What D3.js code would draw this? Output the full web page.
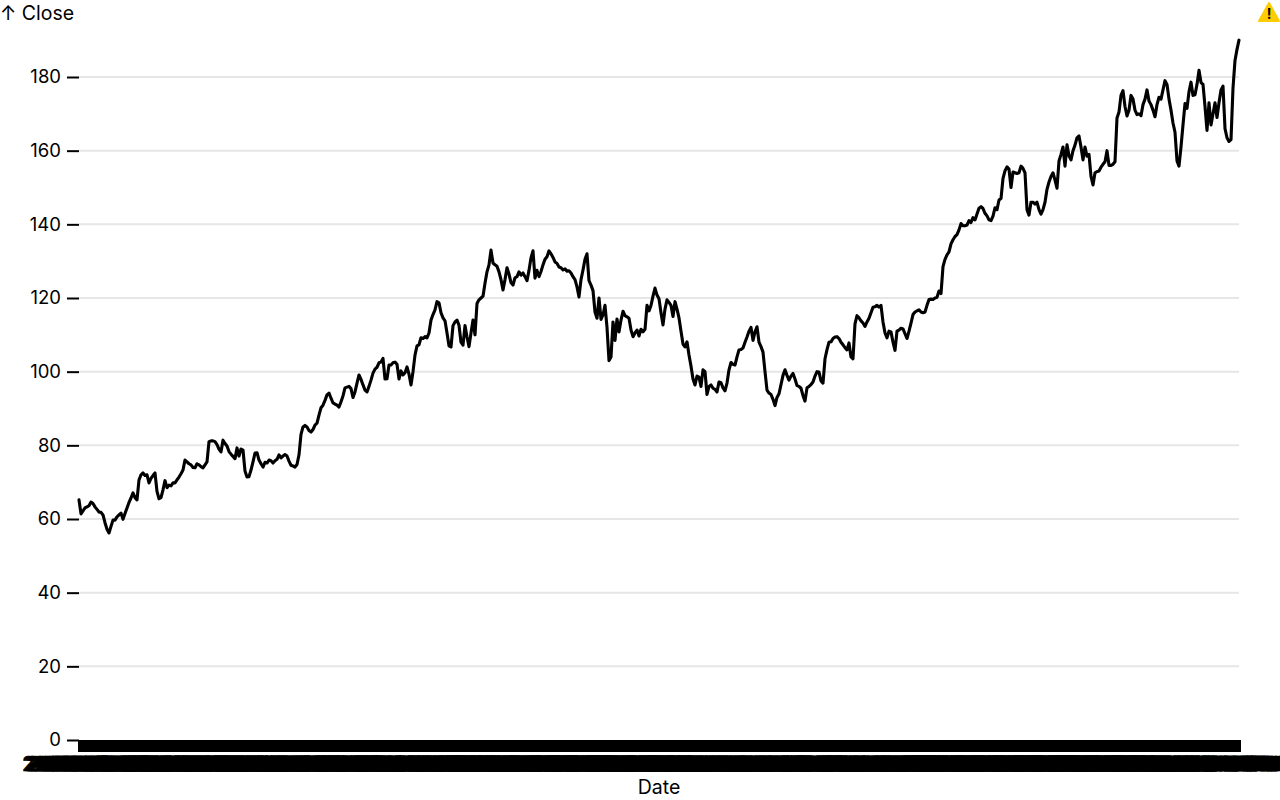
<!DOCTYPE html>
<html><head><meta charset="utf-8">
<script src="https://cdn.jsdelivr.net/npm/d3@7"></script>
<style>html,body{margin:0;background:#fff}svg{display:block}text{font-family:Inter,"Liberation Sans",sans-serif;fill:#000}</style>
</head><body><script>
const closeValues = [
65.2,61.4,62.2,63,63.3,63.6,64.6,64.2,63.3,62.6,61.9,61.8,61.1,59,57.2,56.2,58,59.7,59.7,60.6,61.1,61.6,59.9,61.5,63,64.5,65.7,67.1,65.8,65.2,70.6,72,72.5,71.8,72,69.8,71,71.8,72.5,67.5,65.5,65.8,67.9,70.4,68.5,69.2,69,69.8,69.8,70.6,71.4,72.3,73.3,76,75.5,75,74.7,74,73.9,75,74.7,74.2,73.9,74.7,75.5,81,81.2,81.2,81,80.2,79,78.2,81.4,80.5,79.8,78.3,77.6,77,76.4,79.3,77.1,79,78.7,73,71.4,71.5,73.3,75.5,77.9,78,76,75,74.1,75.4,75.2,76,75.8,75.2,75.8,76.2,77.4,76.6,77.1,77.5,77.1,75.7,74.6,74.4,74.1,74.8,77.4,83,85,85.4,85,84,83.6,84.3,85.5,86,88.2,90.2,90.9,92.2,93.7,94.2,92.8,91.5,91.2,90.9,90.4,91.8,93.4,95.6,95.8,96,95.4,93,94.5,96.9,99.1,97.9,96.4,95,94.5,96,97.7,99.6,100.7,101.2,102.4,102.6,103.6,98,98.1,101.8,101.8,102.4,102.6,102,98,100.2,99.1,99.7,101.3,99.3,96.4,100,104.5,107,107.3,109.2,109,109.5,109.2,110.5,114,115.5,116.8,119,118.7,116,114.6,113.8,110.5,107,106.7,112.5,113.5,114,112.6,108,107.2,112.5,109.4,106.8,110.5,114,110,118.5,119.5,120,120.5,124,127.1,129,133,129.5,129,128.6,127.1,125,122.2,125,128.2,126.5,124.2,123.5,125.5,125.8,127.1,126.2,126.8,125.8,124.7,127.5,130.9,132.8,125.4,127.5,125.8,127.2,129,130.5,131.2,132.8,132,131,129.8,129.4,128.4,128.2,127.6,127.9,127.3,127.4,126.8,125.8,125,123,120.3,125,127.6,130.5,132,124.7,123.5,122,116.2,114.5,120,114.2,115.4,118,112,103,104,113.5,108.5,114.3,110.8,114,116.4,115.2,114.9,114.5,111.3,109.5,110.5,111.3,109.7,111.5,110.8,111.5,118,116.5,118,120.5,122.7,120.8,119.8,116,112.7,117,119.5,118.8,118,115,119,117,114.6,111,107.5,106.7,108.1,104.5,101.5,98,96.4,98.8,98.5,96,100.5,100,93.8,96,96.4,95.5,95.2,94.5,97.2,97,95.6,94.8,96.9,100.5,102.5,102,101.8,104,105.9,106,106.4,108,109.4,111,112,108.5,110.8,112.2,108,106.8,105.3,100,95,94.2,93.8,92.5,90.8,93,94,96.5,99,100.5,99,97.7,98.8,99.5,98,96.2,96,95.5,93.5,92,95.6,96,96.5,97.2,98.8,100,99.9,97.5,96.9,103.5,106,108,108.1,109,109.4,109.5,109,108,107.3,106.5,105.9,107.8,104,103.5,113,115.2,114.6,113.8,113.2,112.3,113.5,114.5,116,117.5,117.6,118,117.5,118,113.5,110.5,109.2,111,110.8,108,105.8,111,111.3,111.8,111.6,110.3,109,111,113.2,115.5,116.2,116.5,116.8,116.2,116,116.2,118,119.6,119.7,119.6,120,120.2,121.9,121.2,128.5,130.5,131.7,132.5,134.7,135.8,136.7,137.2,138.5,140.2,139.6,139.6,139.8,141,140.5,141.8,141.2,142.8,144.4,144.8,144.3,143,142.3,141.2,141,142.2,144.5,144,146.6,147,152.5,154.5,155.6,155,150,154.2,154,153.8,154,155.8,155.2,154,144,142.5,146,146,145.5,146,144,142.8,144,146,149.5,151.5,153,154,152,149.8,157.2,159,161,155.8,161.6,158.6,157.5,160,161.5,163.5,164,161,157.5,161,158.5,159,153,150.7,154,154.3,154.5,155.5,156.3,157,160,156,156,156.3,157,168.9,170.5,175,176.3,172,169.4,171,175,174,171,169.8,170,169.5,172.5,174,176.5,173.5,172.5,171,169.2,172.5,174.5,174,176.5,179,178,174,171,167.5,165,157.2,155.8,161,167,172.8,171.5,176,178.6,175,175.2,178,181.8,178.5,178,172,165.5,173,167,170,173,169,173,176.5,177.5,166,163.5,162.5,163,177,184.5,187.5,190
];
const startDate = new Date(Date.UTC(2013, 4, 13));
const spanDays = 1824;
const dateLabels = closeValues.map((_, i) =>
  d3.utcFormat("%Y-%m-%d")(d3.utcDay.offset(startDate, Math.round(i * spanDays / (closeValues.length - 1)))));
const yTicks = [0, 20, 40, 60, 80, 100, 120, 140, 160, 180];
const yTitle = "↑ Close";
const xTitle = "Date";

const W = 1280, H = 800;
const x = d3.scalePoint().domain(dateLabels).range([79, 1239]);
const y = d3.scaleLinear().domain([0, 180]).range([740, 77]);
const svg = d3.select("body").append("svg").attr("width", W).attr("height", H);

// grid
svg.append("g").selectAll("line").data(yTicks.filter(d => d > 0)).join("line")
  .attr("x1", 79).attr("x2", 1239).attr("y1", y).attr("y2", y)
  .attr("stroke", "#e6e6e6").attr("stroke-width", 2);

// y axis
const yAxis = svg.append("g").attr("transform", "translate(79,0)")
  .call(d3.axisLeft(y).tickValues(yTicks).tickSize(12).tickPadding(6));
yAxis.select(".domain").remove();
yAxis.selectAll("line").attr("stroke", "#000").attr("stroke-width", 2);
yAxis.selectAll("text").style("font-size", "18.5px").style("font-family", "Inter");

// x axis: one tick and one label per date, overlapping into a solid band
const xAxis = svg.append("g").attr("transform", "translate(0,740)")
  .call(d3.axisBottom(x).tickSize(12).tickPadding(5));
xAxis.select(".domain").remove();
xAxis.selectAll("line").attr("stroke", "#000").attr("stroke-width", 3);
xAxis.selectAll("text")
  .style("font-size", "20px").style("font-family", "Inter").style("letter-spacing", "0.6px")
  .attr("stroke", "#000").attr("stroke-width", 0.6);

// line
svg.append("path").datum(closeValues)
  .attr("fill", "none").attr("stroke", "#000").attr("stroke-width", 3.1)
  .attr("stroke-linejoin", "round").attr("stroke-linecap", "round")
  .attr("d", d3.line().x((d, i) => x(dateLabels[i])).y(d => y(d)));

// titles
svg.append("text").attr("x", 0).attr("y", 20).style("font-size", "19.5px").text(yTitle);
svg.append("text").attr("x", 659).attr("y", 794).attr("text-anchor", "middle").style("font-size", "19.5px").text(xTitle);

// warning badge
const warn = svg.append("g");
warn.append("path").attr("d", "M1269 3 L1279 21 L1259 21 Z")
  .attr("fill", "#ffcc00").attr("stroke", "#ffcc00").attr("stroke-width", 2).attr("stroke-linejoin", "round");
warn.append("text").attr("x", 1269).attr("y", 19).attr("text-anchor", "middle")
  .style("font-size", "14px").style("font-weight", "700").text("!");
</script></body></html>
